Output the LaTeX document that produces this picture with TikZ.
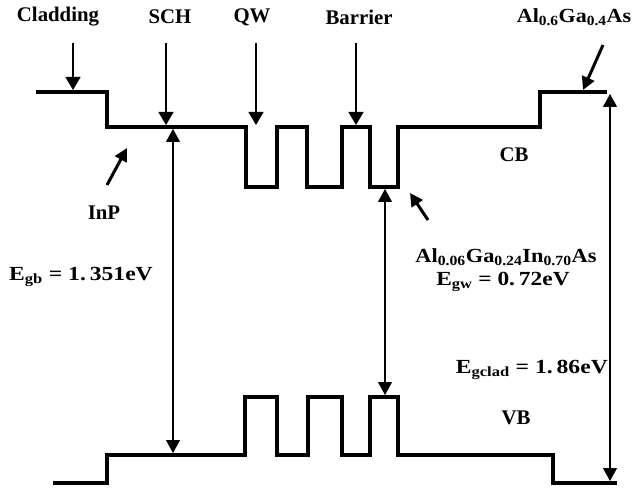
\documentclass[tikz,border=0pt]{standalone}
\usepackage{fontspec}
\setmainfont{Liberation Serif}
\usetikzlibrary{arrows.meta}
\newcommand{\widelbl}[2]{\scalebox{#1}[1]{#2}}
\begin{document}
\begin{tikzpicture}[x=1pt,y=-1pt,
  band/.style={line width=4pt, line join=miter},
  thinarr/.style={line width=1.2pt, -{Triangle[length=13pt,width=15pt]}},
  thinboth/.style={line width=1.2pt, {Triangle[length=13pt,width=14pt]}-{Triangle[length=13pt,width=14pt]}},
  thickarr/.style={line width=3pt, -{Triangle[length=13pt,width=13pt]}},
  lbl/.style={font=\fontsize{20.8}{24}\selectfont\bfseries, inner sep=0pt, anchor=center},
  eq/.style={font=\fontsize{20}{24}\selectfont\bfseries, inner sep=0pt, anchor=center},
]
\useasboundingbox (0,0) rectangle (632,494);
% conduction band
\draw[band] (36,92) -- (107,92) -- (107,127) -- (246,127) -- (246,187) -- (277,187) -- (277,127)
  -- (307,127) -- (307,187) -- (342,187) -- (342,127) -- (370,127) -- (370,187) -- (398,187)
  -- (398,127) -- (540,127) -- (540,92) -- (607,92);
% valence band
\draw[band] (53,483) -- (107,483) -- (107,455) -- (245,455) -- (245,397) -- (277,397) -- (277,455)
  -- (308,455) -- (308,397) -- (342,397) -- (342,455) -- (370,455) -- (370,397) -- (398,397)
  -- (398,455) -- (553,455) -- (553,483) -- (617,483);
% labels
\node[lbl] (clad) at (58,17) {Cladding};
\node[lbl] (sch) at (170,17) {SCH};
\node[lbl] (qw) at (252,17) {QW};
\node[lbl] (bar) at (359,17) {Barrier};
\node[eq] (algaas) at (574,17) {\widelbl{1.1}{Al\textsubscript{0.6}Ga\textsubscript{0.4}As}};
\node[lbl] (cb) at (514,155) {CB};
\node[lbl] (vb) at (516,418) {VB};
\node[lbl] (inp) at (104,213) {InP};
\node[eq] (egb) at (81,277) {\widelbl{1.18}{E\textsubscript{gb} = 1.\,351eV}};
\node[eq] (alga) at (506,257) {\widelbl{1.12}{Al\textsubscript{0.06}Ga\textsubscript{0.24}In\textsubscript{0.70}As}};
\node[eq] (egw) at (503,282) {\widelbl{1.17}{E\textsubscript{gw} = 0.\,72eV}};
\node[eq, anchor=east] (egc) at (608,370) {\widelbl{1.18}{E\textsubscript{gclad} = 1.\,86eV}};
% arrow end points
\coordinate (c1s) at (73,43);  \coordinate (c1e) at (73,90);
\coordinate (s1s) at (166,43); \coordinate (s1e) at (166,125);
\coordinate (q1s) at (256,43); \coordinate (q1e) at (256,125);
\coordinate (b1s) at (356,43); \coordinate (b1e) at (356,125);
\coordinate (a1s) at (603,45); \coordinate (a1e) at (583,90);
\coordinate (i1s) at (107,185); \coordinate (i1e) at (127,148);
\coordinate (w1s) at (428,220); \coordinate (w1e) at (410,193);
\coordinate (gbt) at (173,129); \coordinate (gbb) at (173,453);
\coordinate (gwt) at (385,189); \coordinate (gwb) at (385,395);
\coordinate (gct) at (610,94);  \coordinate (gcb) at (610,481);
\draw[thinarr] (c1s) -- (c1e);
\draw[thinarr] (s1s) -- (s1e);
\draw[thinarr] (q1s) -- (q1e);
\draw[thinarr] (b1s) -- (b1e);
\draw[thickarr] (a1s) -- (a1e);
\draw[thickarr] (i1s) -- (i1e);
\draw[thickarr] (w1s) -- (w1e);
\draw[thinboth] (gbt) -- (gbb);
\draw[thinboth] (gwt) -- (gwb);
\draw[thinboth] (gct) -- (gcb);
\end{tikzpicture}
\end{document}
